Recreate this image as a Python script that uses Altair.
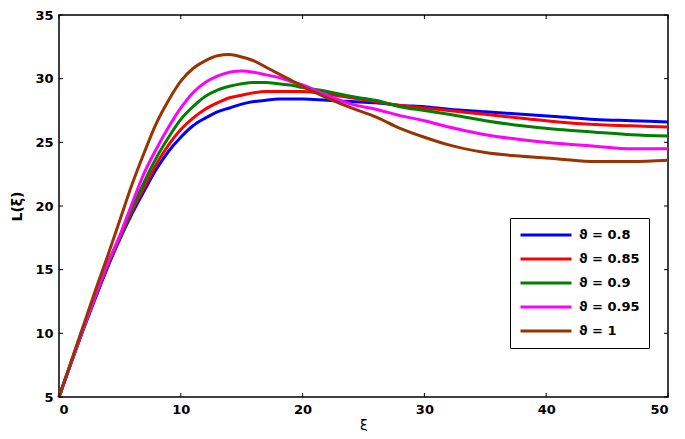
import altair as alt
import pandas as pd

# ---- data ----
xi = [0, 1, 2, 3, 4, 5, 6, 7, 8, 9, 10, 11, 12, 13, 14, 15, 16, 17, 18, 19, 20,
      22, 24, 26, 28, 30, 32, 35, 38, 41, 44, 47, 50]

L_080 = [5, 7.7, 10.3, 12.8, 15.2, 17.4, 19.4, 21.2, 22.9, 24.3, 25.4, 26.3, 26.9, 27.4, 27.7, 28.0, 28.2, 28.3, 28.4, 28.4, 28.4,
         28.3, 28.2, 28.1, 27.9, 27.8, 27.6, 27.4, 27.2, 27.0, 26.8, 26.7, 26.6]
L_085 = [5, 7.7, 10.4, 12.9, 15.3, 17.5, 19.6, 21.5, 23.3, 24.8, 26.0, 26.9, 27.6, 28.1, 28.5, 28.7, 28.9, 29.0, 29.0, 29.0, 29.0,
         28.8, 28.5, 28.2, 27.9, 27.7, 27.5, 27.2, 26.9, 26.6, 26.4, 26.3, 26.2]
L_090 = [5, 7.7, 10.4, 13.0, 15.4, 17.6, 19.8, 21.9, 23.8, 25.4, 26.8, 27.8, 28.6, 29.1, 29.4, 29.6, 29.7, 29.7, 29.6, 29.5, 29.3,
         29.0, 28.6, 28.3, 27.8, 27.5, 27.2, 26.7, 26.3, 26.0, 25.8, 25.6, 25.5]
L_095 = [5, 7.7, 10.4, 13.0, 15.5, 17.7, 20.2, 22.6, 24.5, 26.2, 27.7, 28.9, 29.7, 30.2, 30.5, 30.6, 30.5, 30.3, 30.1, 29.8, 29.5,
         28.7, 28.0, 27.6, 27.1, 26.7, 26.2, 25.6, 25.2, 24.9, 24.7, 24.5, 24.5]
L_100 = [5, 7.8, 10.6, 13.4, 16.1, 18.9, 21.7, 24.2, 26.5, 28.3, 29.8, 30.8, 31.4, 31.8, 31.9, 31.7, 31.4, 30.9, 30.4, 29.9, 29.4,
         28.5, 27.7, 27.0, 26.1, 25.4, 24.8, 24.2, 23.9, 23.7, 23.5, 23.5, 23.6]

labels = ["\u03d1 = 0.8", "\u03d1 = 0.85", "\u03d1 = 0.9", "\u03d1 = 0.95", "\u03d1 = 1"]
colors = ["#0000FF", "#FF0000", "#008000", "#FF00FF", "#993300"]

x_ticks = [0, 10, 20, 30, 40, 50]
y_ticks = [5, 10, 15, 20, 25, 30, 35]

series = [L_080, L_085, L_090, L_095, L_100]
rows = []
for lab, vals in zip(labels, series):
    for xv, yv in zip(xi, vals):
        rows.append({"xi": xv, "L": yv, "theta": lab})
df = pd.DataFrame(rows)

W, H = 609, 382
xscale = alt.Scale(domain=[0, 50], nice=False, zero=False)
yscale = alt.Scale(domain=[5, 35], nice=False, zero=False)
xaxis = alt.Axis(values=x_ticks, title="\u03be", format="d")
yaxis = alt.Axis(values=y_ticks, title="L(\u03be)", format="d")

lines = alt.Chart(df).mark_line(strokeWidth=3, interpolate="monotone").encode(
    x=alt.X("xi:Q", scale=xscale, axis=xaxis),
    y=alt.Y("L:Q", scale=yscale, axis=yaxis),
    color=alt.Color("theta:N", sort=labels,
                    scale=alt.Scale(domain=labels, range=colors),
                    legend=alt.Legend(title=None)),
    order=alt.Order("xi:Q"),
)

xt = pd.DataFrame({"xi": x_ticks})
yt = pd.DataFrame({"L": y_ticks})
tick_style = dict(color="black", strokeWidth=1)

bottom_ticks = alt.Chart(xt).mark_rule(**tick_style).encode(
    x=alt.X("xi:Q", scale=xscale, axis=xaxis), y=alt.value(H), y2=alt.value(H - 4))
top_ticks = alt.Chart(xt).mark_rule(**tick_style).encode(
    x=alt.X("xi:Q", scale=xscale, axis=xaxis), y=alt.value(0), y2=alt.value(4))
left_ticks = alt.Chart(yt).mark_rule(**tick_style).encode(
    y=alt.Y("L:Q", scale=yscale, axis=yaxis), x=alt.value(0), x2=alt.value(4))
right_ticks = alt.Chart(yt).mark_rule(**tick_style).encode(
    y=alt.Y("L:Q", scale=yscale, axis=yaxis), x=alt.value(W), x2=alt.value(W - 4))

chart = alt.layer(lines, bottom_ticks, top_ticks, left_ticks, right_ticks).properties(
    width=W, height=H,
    autosize=alt.AutoSizeParams(type="none"),
    padding={"left": 51, "top": 7, "right": 9, "bottom": 34},
).configure_view(
    stroke="black", strokeWidth=1.5
).configure_axis(
    grid=False, ticks=False, domain=False,
    labelFont="DejaVu Sans", labelFontWeight="bold", labelFontSize=13, labelColor="black",
    titleFont="DejaVu Sans", titleColor="black",
).configure_axisX(
    labelPadding=6, titleFontSize=14, titleFontWeight="normal", titlePadding=2,
).configure_axisY(
    labelPadding=6, titleFontSize=14, titleFontWeight="bold", titlePadding=10,
).configure_legend(
    orient="none", legendX=451, legendY=203,
    strokeColor="black", fillColor="white", padding=9,
    symbolType="stroke", symbolSize=2600, symbolStrokeWidth=3,
    labelFont="DejaVu Sans", labelFontWeight="bold", labelFontSize=13, labelColor="black",
    clipHeight=16, rowPadding=8, labelOffset=6,
)

chart.save("out.html", embed_options={"renderer": "svg", "actions": False})
